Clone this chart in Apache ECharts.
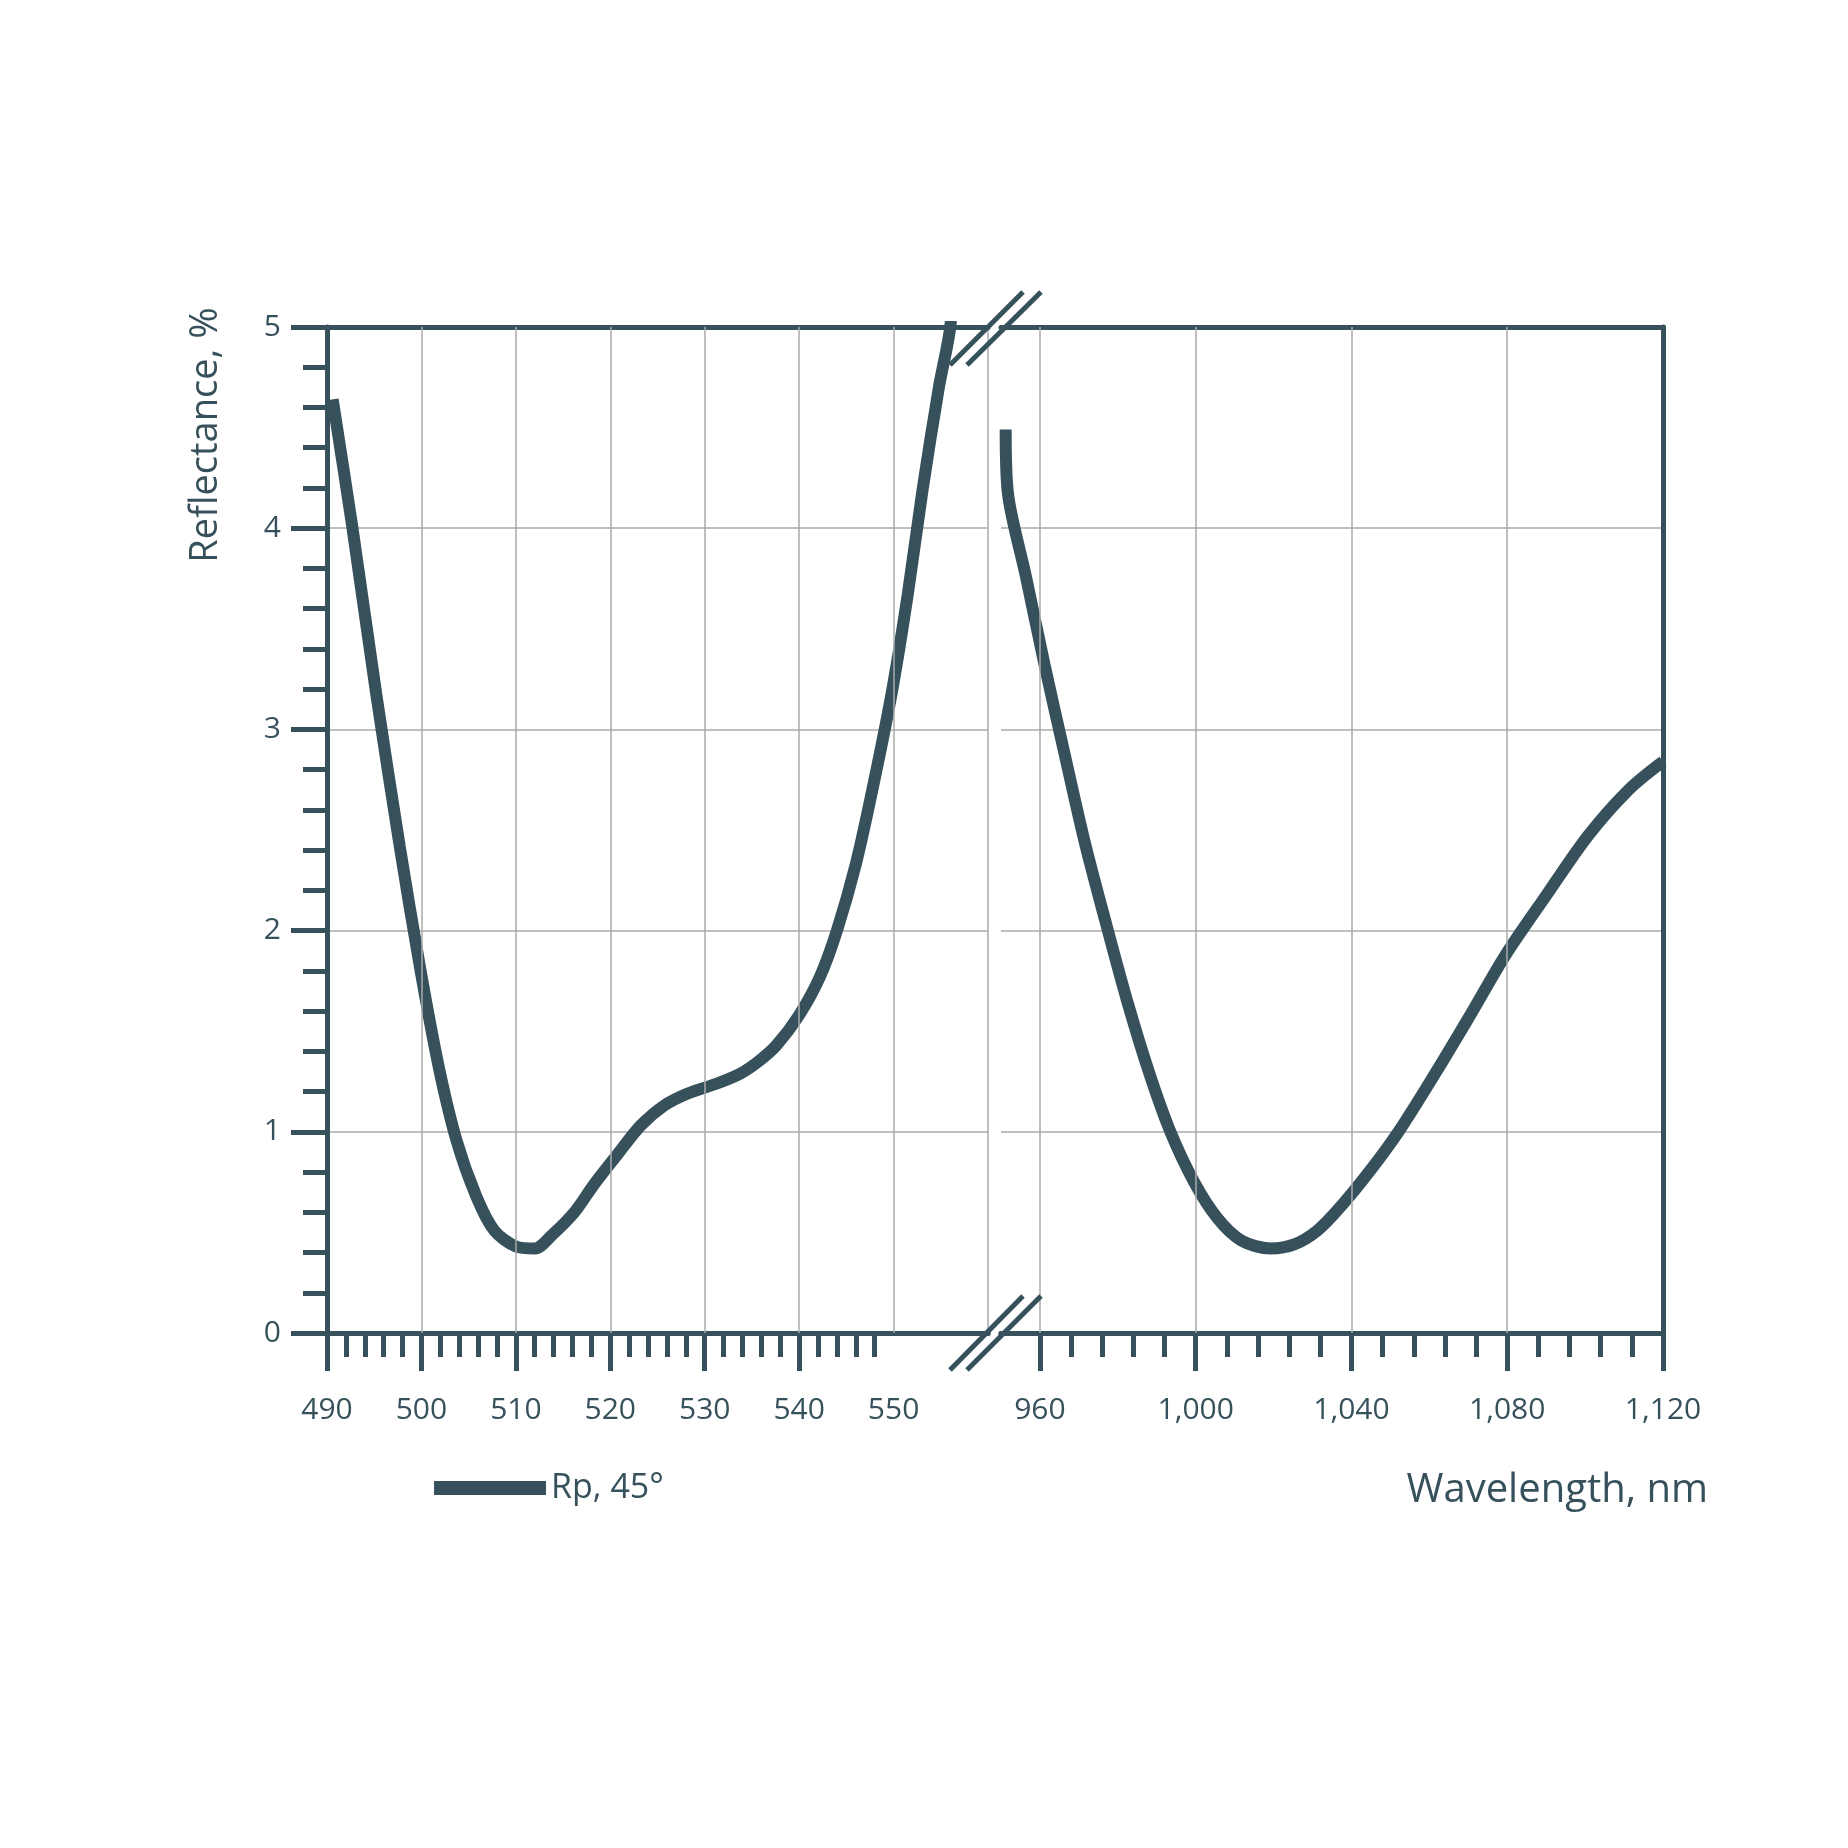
<!DOCTYPE html>
<html><head><meta charset="utf-8">
<script src="https://cdn.jsdelivr.net/npm/echarts@6/dist/echarts.min.js"></script>
<style>html,body{margin:0;background:#fff}#c{width:1848px;height:1848px}</style>
</head><body><div id="c"></div>
<script>
const leftX=[490.6,492.7,495.2,497.7,499.8,501.8,503.7,505.8,507.7,510,512,513.9,516.2,518.3,520.8,523.2,525.7,528.2,531.3,533.8,535.7,537.6,540,542.2,544,546,547.8,549.8,551.5,553.1,554.8,556,557];
const leftY=[4.64,4.0,3.18,2.42,1.83,1.33,0.96,0.68,0.51,0.43,0.42,0.49,0.6,0.74,0.89,1.03,1.13,1.19,1.24,1.29,1.35,1.43,1.58,1.77,2.0,2.33,2.71,3.18,3.67,4.2,4.7,5.0,5.6];
const rightX=[951.2,951.8,956.4,961.2,966.3,971.5,976.9,982.4,988.1,993.5,999.6,1005.6,1011.7,1019.2,1025.3,1031.3,1037.3,1044.9,1052.4,1061.5,1070.5,1079.6,1090.2,1100.7,1111.2,1120];
const rightY=[4.49,4.17,3.76,3.32,2.88,2.44,2.04,1.65,1.29,1.0,0.75,0.57,0.46,0.42,0.44,0.51,0.63,0.81,1.01,1.29,1.58,1.88,2.18,2.47,2.70,2.84];
const leftMajor=[490,500,510,520,530,540];
const leftLabels=[490,500,510,520,530,540,550];
const leftMinor=[492,494,496,498,502,504,506,508,512,514,516,518,522,524,526,528,532,534,536,538,542,544,546,548];
const leftGrid=[500,510,520,530,540,550,560];
const rightMajor=[960,1000,1040,1080,1120];
const rightMinor=[968,976,984,992,1008,1016,1024,1032,1048,1056,1064,1072,1088,1096,1104,1112];
const rightGrid=[960,1000,1040,1080];
const seriesName='Rp, 45°';

const C='#37515c', G='#aaaaaa', F='Open Sans';
const fmt=v=>v>=1000?String(v).replace(/(\d)(\d{3})$/,'$1,$2'):String(v);
const lbl={color:C,fontFamily:F,fontSize:30,margin:62,formatter:fmt};
const axLine={show:true,lineStyle:{color:C,width:5}};
function xa(grid,min,max,ticks,len,labels){
  return {type:'value',gridIndex:grid,min,max,position:'bottom',axisLine:axLine,splitLine:{show:false},
    axisTick:{show:true,length:len,lineStyle:{color:C,width:5},customValues:ticks},
    axisLabel:labels?Object.assign({customValues:labels},lbl):{show:false}};
}
function topAx(grid,min,max){return {type:'value',gridIndex:grid,min,max,position:'top',axisLine:axLine,axisTick:{show:false},axisLabel:{show:false},splitLine:{show:false}};}
const ml=vals=>({silent:true,symbol:['none','none'],label:{show:false},lineStyle:{color:G,width:1.5,type:'solid'},data:vals.map(v=>({xAxis:v}))});
const chart=echarts.init(document.getElementById('c'));
chart.setOption({
  animation:false,backgroundColor:'#fff',
  grid:[{left:327,top:327,width:661,height:1006},{left:1001,top:327,width:662,height:1006}],
  xAxis:[xa(0,490,560,leftMajor,38,leftLabels),xa(0,490,560,leftMinor,24,null),topAx(0,490,560),
         xa(1,950,1120,rightMajor,38,rightMajor),xa(1,950,1120,rightMinor,24,null),topAx(1,950,1120)],
  yAxis:[{type:'value',gridIndex:0,min:0,max:5,interval:1,axisLine:axLine,
      axisTick:{show:true,length:36,lineStyle:{color:C,width:5}},
      minorTick:{show:true,splitNumber:5,length:24,lineStyle:{color:C,width:5}},
      axisLabel:{color:C,fontFamily:F,fontSize:30,margin:46},
      splitLine:{show:true,lineStyle:{color:G,width:1.5}}},
    {type:'value',gridIndex:1,min:0,max:5,interval:1,position:'right',axisLine:axLine,axisTick:{show:false},axisLabel:{show:false},
      splitLine:{show:true,lineStyle:{color:G,width:1.5}}}],
  legend:{left:429,top:1466,itemWidth:112,itemHeight:14,icon:'rect',itemGap:10,
    textStyle:{color:C,fontFamily:F,fontSize:34},data:[seriesName]},
  series:[
    {name:seriesName,type:'line',xAxisIndex:0,yAxisIndex:0,data:leftX.map((x,i)=>[x,leftY[i]]),smooth:0.3,symbol:'none',
      lineStyle:{color:C,width:12},itemStyle:{color:C},markLine:ml(leftGrid),z:3},
    {name:seriesName,type:'line',xAxisIndex:3,yAxisIndex:1,data:rightX.map((x,i)=>[x,rightY[i]]),smooth:0.3,symbol:'none',
      lineStyle:{color:C,width:12},itemStyle:{color:C},markLine:ml(rightGrid),z:3}
  ],
  graphic:[
    {type:'text',x:206,y:435,rotation:Math.PI/2,style:{text:'Reflectance, %',fill:C,font:'38px "Open Sans"',align:'center',verticalAlign:'middle'}},
    {type:'text',x:1708,y:1491,style:{text:'Wavelength, nm',fill:C,font:'40px "Open Sans"',align:'right',verticalAlign:'middle'}},
    {type:'line',shape:{x1:950,y1:365,x2:1023,y2:292},style:{stroke:C,lineWidth:5},z:10},
    {type:'line',shape:{x1:967,y1:365,x2:1041,y2:292},style:{stroke:C,lineWidth:5},z:10},
    {type:'line',shape:{x1:950,y1:1370,x2:1023,y2:1296},style:{stroke:C,lineWidth:5},z:10},
    {type:'line',shape:{x1:967,y1:1370,x2:1041,y2:1296},style:{stroke:C,lineWidth:5},z:10}
  ]
});
</script></body></html>
